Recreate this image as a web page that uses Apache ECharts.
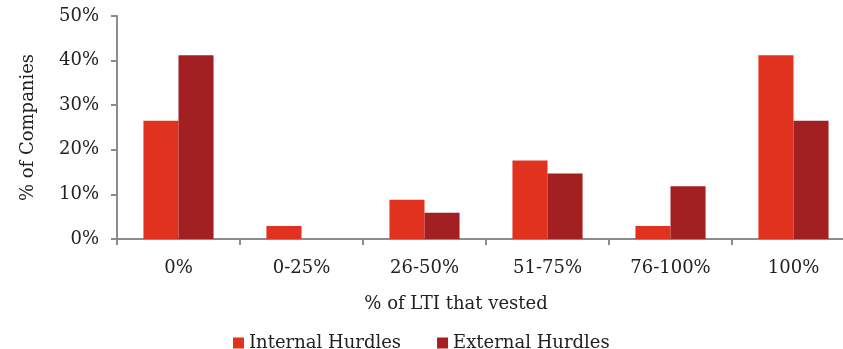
<!DOCTYPE html>
<html>
<head>
<meta charset="utf-8">
<script src="https://cdn.jsdelivr.net/npm/echarts@6/dist/echarts.min.js"></script>
<style>
  html, body { margin: 0; padding: 0; background: #fff; overflow: hidden; }
  /* the plot runs slightly past the right edge of the page */
  #chart { width: 860px; height: 349px; }
</style>
</head>
<body>
<div id="chart"></div>
<script>
// Share of companies by proportion of LTI that vested
const categories = ['0%', '0-25%', '26-50%', '51-75%', '76-100%', '100%'];
const internalHurdles = [26.5, 2.9, 8.8, 17.6, 2.9, 41.2];
const externalHurdles = [41.2, 0, 5.9, 14.7, 11.8, 26.5];
const yTicks = [0, 10, 20, 30, 40, 50];

const FONT = 'DejaVu Serif';
const axisGrey = '#8c8c8c';

const chart = echarts.init(document.getElementById('chart'));
chart.setOption({
  animation: false,
  textStyle: { fontFamily: FONT, color: '#222' },
  title: {
    text: '% of LTI that vested',
    left: 451,
    top: 290,
    textAlign: 'center',
    textStyle: { fontFamily: FONT, fontSize: 18, fontWeight: 'normal', color: '#222' }
  },
  legend: {
    data: ['Internal Hurdles', 'External Hurdles'],
    left: 228,
    top: 329,
    itemWidth: 11,
    itemHeight: 11,
    itemGap: 36,
    icon: 'rect',
    textStyle: { fontFamily: FONT, fontSize: 18, color: '#222' }
  },
  grid: { left: 117, top: 16, width: 738, height: 223, containLabel: false },
  xAxis: {
    type: 'category',
    data: categories,
    axisLine: { lineStyle: { color: axisGrey, width: 2 } },
    axisTick: { show: true, alignWithLabel: false, length: 6, lineStyle: { color: axisGrey, width: 2 } },
    axisLabel: { fontFamily: FONT, fontSize: 18, color: '#222', margin: 20 }
  },
  yAxis: {
    type: 'value',
    min: yTicks[0],
    max: yTicks[yTicks.length - 1],
    interval: 10,
    name: '% of Companies',
    nameLocation: 'middle',
    nameGap: 80,
    nameRotate: 90,
    nameTextStyle: { fontFamily: FONT, fontSize: 18, color: '#222' },
    axisLine: { show: true, lineStyle: { color: axisGrey, width: 2 } },
    axisTick: { show: true, length: 6, lineStyle: { color: axisGrey, width: 2 } },
    splitLine: { show: false },
    axisLabel: { fontFamily: FONT, fontSize: 18, color: '#222', margin: 18, formatter: v => v + '%' }
  },
  series: [
    {
      name: 'Internal Hurdles',
      type: 'bar',
      data: internalHurdles,
      barGap: '0%',
      barCategoryGap: '43%',
      itemStyle: { color: '#E0321F' }
    },
    {
      name: 'External Hurdles',
      type: 'bar',
      data: externalHurdles,
      barGap: '0%',
      barCategoryGap: '43%',
      itemStyle: { color: '#A21F22' }
    }
  ]
});
</script>
</body>
</html>
